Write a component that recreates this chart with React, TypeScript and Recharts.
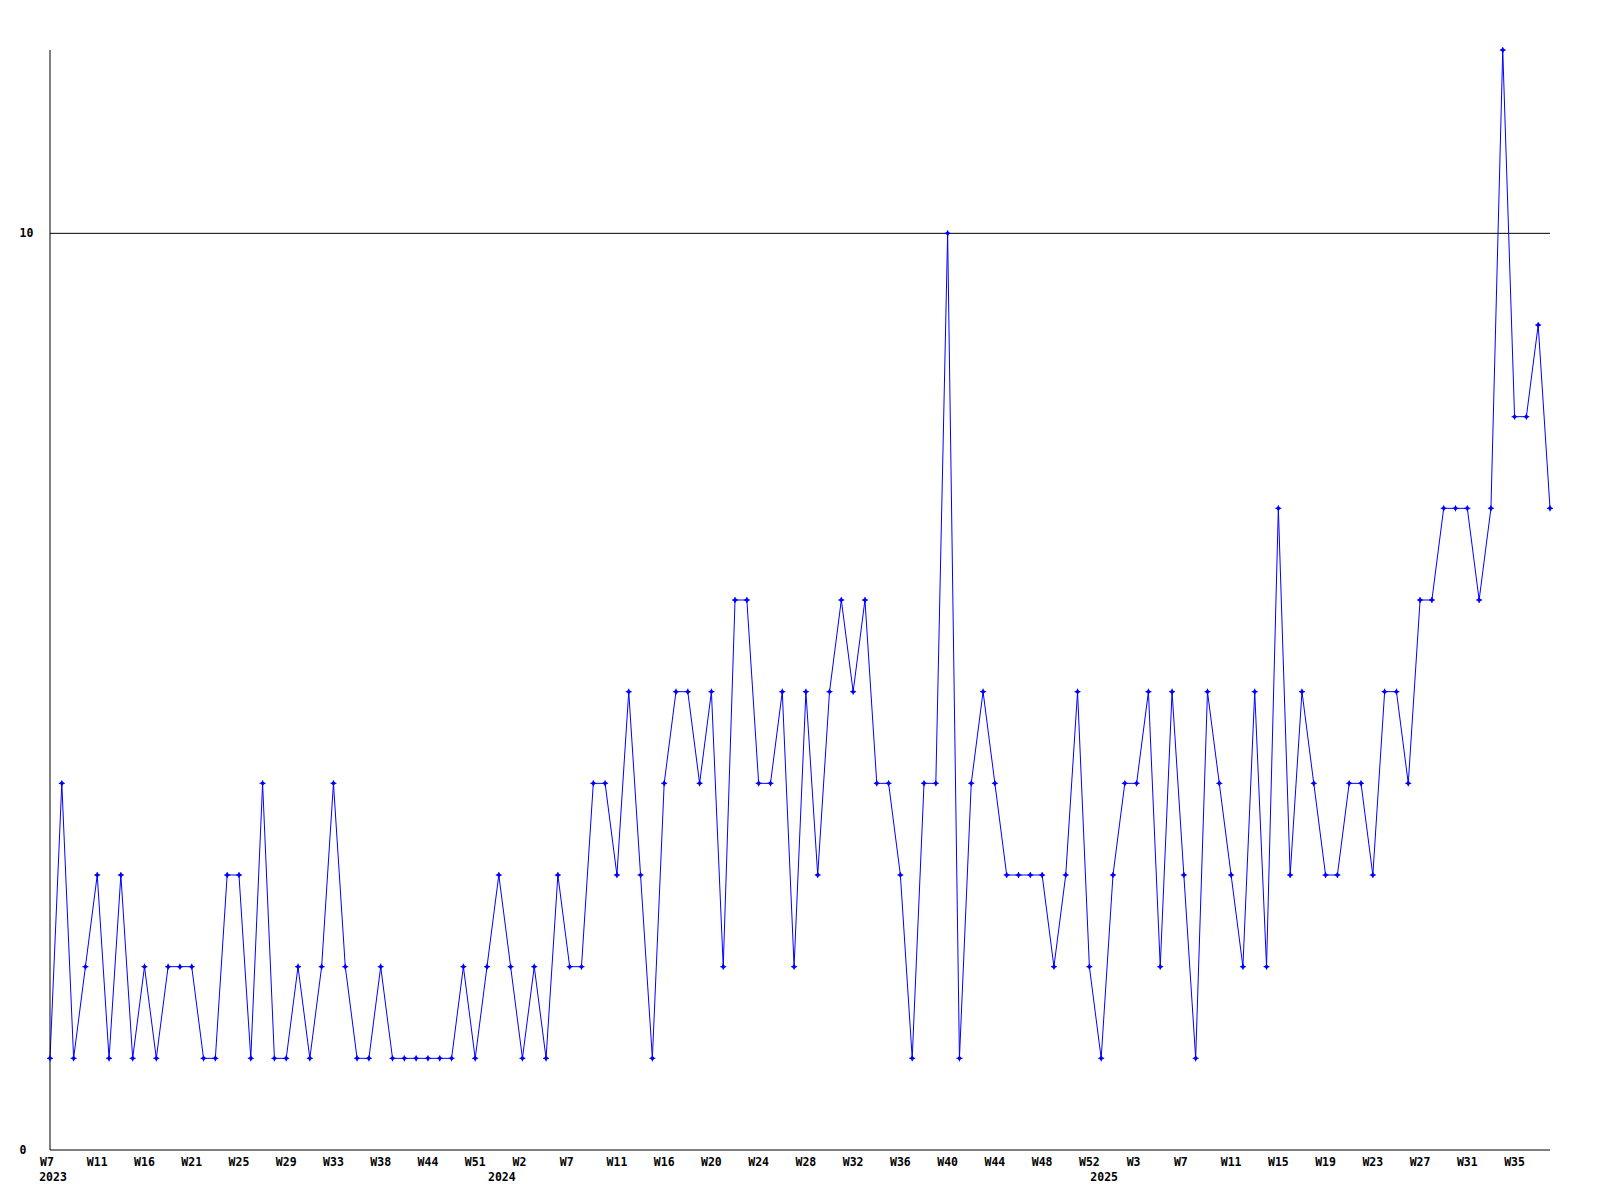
import { LineChart, Line, XAxis, YAxis, ReferenceLine } from "recharts";

// weekly counts, one point per week (x = point index)
const values = [
  1, 4, 1, 2, 3, 1, 3, 1, 2, 1,
  2, 2, 2, 1, 1, 3, 3, 1, 4, 1,
  1, 2, 1, 2, 4, 2, 1, 1, 2, 1,
  1, 1, 1, 1, 1, 2, 1, 2, 3, 2,
  1, 2, 1, 3, 2, 2, 4, 4, 3, 5,
  3, 1, 4, 5, 5, 4, 5, 2, 6, 6,
  4, 4, 5, 2, 5, 3, 5, 6, 5, 6,
  4, 4, 3, 1, 4, 4, 10, 1, 4, 5,
  4, 3, 3, 3, 3, 2, 3, 5, 2, 1,
  3, 4, 4, 5, 2, 5, 3, 1, 5, 4,
  3, 2, 5, 2, 7, 3, 5, 4, 3, 3,
  4, 4, 3, 5, 5, 4, 6, 6, 7, 7,
  7, 6, 7, 12, 8, 8, 9, 7,
];

// one label every 4th point
const weekLabels = [
  "W7", "W11", "W16", "W21", "W25", "W29", "W33", "W38", "W44", "W51",
  "W2", "W7", "W11", "W16", "W20", "W24", "W28", "W32", "W36", "W40",
  "W44", "W48", "W52", "W3", "W7", "W11", "W15", "W19", "W23", "W27",
  "W31", "W35",
];

const yearIdx = [0, 38, 89];
const yearLabels = ["2023", "2024", "2025"];

const yTicks = [0, 10];
const limit = 10;

const data = values.map((v, i) => ({ idx: i, value: v }));
const xTicks = Array.from(
  new Set([...weekLabels.map((_, i) => i * 4), ...yearIdx])
).sort((a, b) => a - b);

const FONT = "'DejaVu Sans Mono', 'Liberation Mono', monospace";

const XTick = (props: any) => {
  const { x, y, payload } = props;
  const i = payload.value as number;
  const week = i % 4 === 0 ? weekLabels[i / 4] : null;
  const yi = yearIdx.indexOf(i);
  // short labels sit a little left, like the original
  const dx = week && week.length < 3 ? -3 : 0;
  return (
    <g>
      {week && (
        <text x={x + dx} y={y} dy="0.71em" textAnchor="middle" fontFamily={FONT} fontWeight="bold" fontSize={11.5} fill="#000">
          {week}
        </text>
      )}
      {yi >= 0 && (
        <text x={x + 3} y={y + 15} dy="0.71em" textAnchor="middle" fontFamily={FONT} fontWeight="bold" fontSize={11.5} fill="#000">
          {yearLabels[yi]}
        </text>
      )}
    </g>
  );
};

const YTick = (props: any) => {
  const { y, payload } = props;
  return (
    <text x={19.5} y={y} dy="0.36em" textAnchor="start" fontFamily={FONT} fontWeight="bold" fontSize={11.5} fill="#000">
      {payload.value}
    </text>
  );
};

const Marker = (props: any) => {
  const { cx, cy, index } = props;
  if (cx == null || cy == null) return <g key={index} />;
  return (
    <g key={index}>
      <path d={`M${cx - 2.5},${cy} L${cx},${cy - 2.5} L${cx + 2.5},${cy} L${cx},${cy + 2.5} Z`} fill="#0000ff" />
      <path d={`M${cx - 3},${cy} H${cx + 3} M${cx},${cy - 3} V${cy + 3}`} stroke="#0000ff" strokeWidth={1} />
    </g>
  );
};

export default function App() {
  return (
    <div style={{ position: "absolute", left: 0, top: 0, background: "#fff" }}>
      <LineChart width={1600} height={1200} data={data} margin={{ top: 50, right: 50, bottom: 0, left: 0 }}>
        <XAxis
          dataKey="idx"
          type="number"
          domain={[0, values.length - 1]}
          ticks={xTicks}
          interval={0}
          height={50}
          tickLine={false}
          axisLine={{ stroke: "#000" }}
          tick={<XTick />}
        />
        <YAxis
          type="number"
          domain={[0, 12]}
          ticks={yTicks}
          width={50}
          tickLine={false}
          axisLine={{ stroke: "#000" }}
          tick={<YTick />}
        />
        <ReferenceLine y={limit} stroke="#000" strokeWidth={1} />
        <Line
          type="linear"
          dataKey="value"
          stroke="#0000ff"
          strokeWidth={1}
          dot={<Marker />}
          activeDot={false}
          isAnimationActive={false}
        />
      </LineChart>
    </div>
  );
}
